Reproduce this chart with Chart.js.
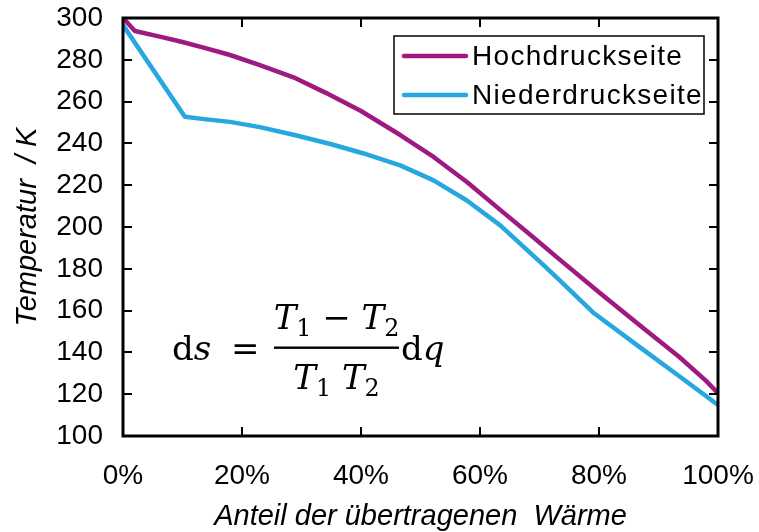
<!DOCTYPE html>
<html>
<head>
<meta charset="utf-8">
<script src="https://cdn.jsdelivr.net/npm/chart.js@4/dist/chart.umd.min.js"></script>
<style>
  html, body { margin: 0; padding: 0; background: #fff; }
</style>
</head>
<body>
<canvas id="chart" width="759" height="532"></canvas>
<script>
/* data: x = share of transferred heat in %, y = temperature in K */
const hochX = [0, 2, 6, 10, 14, 18, 23, 29, 34, 40, 46.6, 52.2, 57.8, 63.4, 69, 73.4, 80, 87, 93.5, 98, 100];
const hochT = [300, 293.8, 291.2, 288.5, 285.5, 282.3, 277.5, 271.2, 264.3, 255.5, 244, 233.5, 221.5, 208.2, 195, 184.4, 168.8, 152.6, 137.8, 126.4, 120.5];

const niedX = [0, 10.4, 14, 18, 23, 29, 35, 40.3, 46.6, 52.2, 57.8, 63.4, 70.6, 73.4, 79, 86.9, 93.5, 100];
const niedT = [296.6, 252.7, 251.5, 250.3, 247.8, 243.9, 239.6, 235.3, 229.5, 222.3, 212.7, 200.8, 182, 174.5, 159.1, 142.4, 128.6, 114.8];

const seriesNames = ["Hochdruckseite", "Niederdruckseite"];
const seriesColors = ["#9e1a80", "#27a7e0"];

const xTicks = [0, 20, 40, 60, 80, 100];
const yTicks = [100, 120, 140, 160, 180, 200, 220, 240, 260, 280, 300];

const toPoints = (xs, ys) => xs.map((v, i) => ({ x: v, y: ys[i] }));

const SANS = '"Liberation Sans", Arial, sans-serif';

// keep the plot box where the picture has it: the layout padding decides, not the label overhang
const noOverhang = s => {
  s.paddingTop = 0; s.paddingBottom = 0; s.paddingLeft = 0; s.paddingRight = 0;
};

/* frame with inward ticks on all four sides */
const framePlugin = {
  id: 'frame',
  afterDatasetsDraw(chart) {
    const { ctx, chartArea: a, scales: { x, y } } = chart;
    const len = 9;
    ctx.save();
    ctx.strokeStyle = '#000';
    ctx.lineWidth = 2;
    ctx.beginPath();
    xTicks.forEach(v => {
      const px = Math.round(x.getPixelForValue(v));
      ctx.moveTo(px, a.bottom); ctx.lineTo(px, a.bottom - len);
      ctx.moveTo(px, a.top); ctx.lineTo(px, a.top + len);
    });
    yTicks.forEach(v => {
      const py = Math.round(y.getPixelForValue(v));
      ctx.moveTo(a.left, py); ctx.lineTo(a.left + len, py);
      ctx.moveTo(a.right, py); ctx.lineTo(a.right - len, py);
    });
    ctx.stroke();
    ctx.lineWidth = 3;
    ctx.strokeRect(a.left, a.top, a.right - a.left, a.bottom - a.top);
    ctx.restore();
  }
};

/* boxed legend inside the plot, top right */
const legendPlugin = {
  id: 'boxLegend',
  afterDraw(chart) {
    const { ctx } = chart;
    const box = { x: 394, y: 36, w: 310, h: 78 };
    ctx.save();
    ctx.fillStyle = '#fff';
    ctx.fillRect(box.x, box.y, box.w, box.h);
    ctx.strokeStyle = '#000';
    ctx.lineWidth = 1.5;
    ctx.strokeRect(box.x, box.y, box.w, box.h);
    ctx.font = '28px ' + SANS;
    ctx.letterSpacing = '1.3px';
    ctx.textBaseline = 'middle';
    ctx.fillStyle = '#000';
    chart.data.datasets.forEach((ds, i) => {
      const yy = box.y + 20 + i * 39;
      ctx.strokeStyle = ds.borderColor;
      ctx.lineWidth = 4.5;
      ctx.lineCap = 'round';
      ctx.beginPath();
      ctx.moveTo(box.x + 10, yy);
      ctx.lineTo(box.x + 72, yy);
      ctx.stroke();
      ctx.fillText(ds.label, box.x + 78, yy + 1);
    });
    ctx.restore();
  }
};

/* formula ds = (T1 - T2)/(T1 T2) dq */
const formulaPlugin = {
  id: 'formula',
  afterDraw(chart) {
    const { ctx } = chart;
    const fs = 34;
    const SERIF = '"DejaVu Serif", "Liberation Serif", serif';
    const runs = (parts, measureOnly, x0, base) => {
      let x = x0;
      parts.forEach(p => {
        const size = p.sub ? fs * 0.7 : fs;
        ctx.font = (p.it ? 'italic ' : '') + size + 'px ' + SERIF;
        const w = ctx.measureText(p.t).width;
        if (!measureOnly) ctx.fillText(p.t, x, base + (p.sub ? 7 : 0));
        x += w;
      });
      return x - x0;
    };
    ctx.save();
    ctx.fillStyle = '#000';
    ctx.textBaseline = 'alphabetic';
    ctx.textAlign = 'left';

    runs([{ t: 'd' }, { t: 's', it: true }], false, 172, 360);
    runs([{ t: '=' }], false, 231, 360);

    const num = [{ t: 'T', it: true }, { t: '1', sub: true }, { t: ' \u2212 ' }, { t: 'T', it: true }, { t: '2', sub: true }];
    const den = [{ t: 'T', it: true }, { t: '1', sub: true }, { t: ' ' }, { t: 'T', it: true }, { t: '2', sub: true }];
    const barL = 274, barR = 399, cx = (barL + barR) / 2;
    const wn = runs(num, true, 0, 0);
    runs(num, false, cx - wn / 2, 329);
    const wd = runs(den, true, 0, 0);
    runs(den, false, cx - wd / 2, 389);
    ctx.fillRect(barL, 346.5, barR - barL, 2.4);

    runs([{ t: 'd' }, { t: 'q', it: true }], false, 401, 360);
    ctx.restore();
  }
};

new Chart(document.getElementById('chart'), {
  type: 'line',
  data: {
    datasets: [
      {
        label: seriesNames[0],
        data: toPoints(hochX, hochT),
        borderColor: seriesColors[0],
        borderWidth: 4.5,
        borderJoinStyle: 'round',
        pointRadius: 0,
        tension: 0
      },
      {
        label: seriesNames[1],
        data: toPoints(niedX, niedT),
        borderColor: seriesColors[1],
        borderWidth: 4.5,
        borderJoinStyle: 'round',
        pointRadius: 0,
        tension: 0
      }
    ]
  },
  options: {
    responsive: false,
    animation: false,
    devicePixelRatio: 1,
    layout: { padding: { top: 18, right: 41, left: 0, bottom: 0 } },
    plugins: {
      legend: { display: false },
      tooltip: { enabled: false }
    },
    scales: {
      x: {
        type: 'linear',
        min: 0,
        max: 100,
        afterBuildTicks: s => { s.ticks = xTicks.map(v => ({ value: v })); },
        afterFit: s => { s.height = 96; noOverhang(s); },
        grid: { display: false, drawTicks: false },
        border: { display: false },
        ticks: {
          padding: 23,
          color: '#000',
          font: { family: SANS, size: 28 },
          callback: v => v + '%'
        },
        title: {
          display: true,
          text: 'Anteil der übertragenen  Wärme',
          color: '#000',
          font: { family: SANS, size: 29, style: 'italic', lineHeight: 1 },
          padding: { top: 0, bottom: 1 }
        }
      },
      y: {
        type: 'linear',
        min: 100,
        max: 300,
        afterBuildTicks: s => { s.ticks = yTicks.map(v => ({ value: v })); },
        afterFit: s => { s.width = 123; noOverhang(s); },
        grid: { display: false, drawTicks: false },
        border: { display: false },
        ticks: {
          padding: 20,
          color: '#000',
          font: { family: SANS, size: 28 }
        },
        title: {
          display: true,
          text: 'Temperatur  / K',
          color: '#000',
          font: { family: SANS, size: 29, style: 'italic', lineHeight: 1 },
          padding: { top: 13, bottom: 0 }
        }
      }
    }
  },
  plugins: [framePlugin, legendPlugin, formulaPlugin]
});
</script>
</body>
</html>
